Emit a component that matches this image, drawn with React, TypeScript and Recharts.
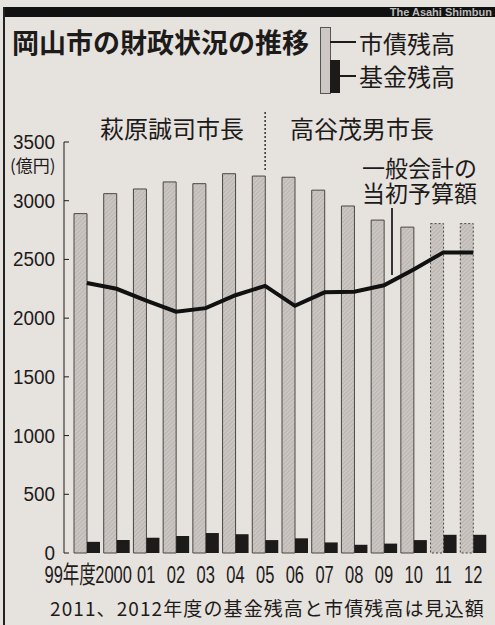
import React from 'react';
import {
  ComposedChart,
  Bar,
  Line,
  XAxis,
  YAxis,
  Cell,
  Legend,
  ReferenceLine
} from 'recharts';

// 年度
const years = ['99年度', '2000', '01', '02', '03', '04', '05', '06', '07', '08', '09', '10', '11', '12'];
// 市債残高 (億円)
const debt = [2890, 3060, 3100, 3160, 3145, 3230, 3210, 3200, 3090, 2955, 2835, 2775, 2805, 2805];
// 基金残高 (億円)
const fund = [95, 110, 130, 145, 170, 160, 110, 125, 90, 70, 80, 110, 155, 155];
// 一般会計の当初予算額 (億円)
const budget = [2300, 2250, 2150, 2055, 2085, 2195, 2275, 2105, 2220, 2225, 2280, 2415, 2560, 2560];
// 見込額の年度
const estimated = ['11', '12'];
const yTicks = [0, 500, 1000, 1500, 2000, 2500, 3000, 3500];

const rows = years.map((year, i) => ({
  year,
  debt: debt[i],
  fund: fund[i],
  budget: budget[i]
}));

const JP = '"Noto Sans CJK JP", "Noto Sans", sans-serif';
const NUM = '"Liberation Sans", Arial, "Noto Sans CJK JP", sans-serif';
const INK = '#1d1b1a';
const PAPER = '#e6e2de';

function YTick({ x, y, payload }: any) {
  const s = String(payload.value);
  return (
    <g>
      <line x1={x} x2={x + 5} y1={y} y2={y} stroke={INK} strokeWidth={1} />
      <text
        x={x - 9}
        y={y + 7}
        textAnchor="end"
        fontSize={20}
        fontFamily={NUM}
        fill={INK}
        textLength={s.length * 10.5}
        lengthAdjust="spacingAndGlyphs"
      >
        {s}
      </text>
    </g>
  );
}

// 年度ラベルは縦長の書体なので縦に引き伸ばす
function XTick({ x, y, payload, index }: any) {
  const s = String(payload.value);
  const first = index === 0;
  const wide = s.length === 4;
  const tx = first ? x + 9 : wide ? x - 3 : x;
  return (
    <text
      transform={`translate(${tx},${y + 30}) scale(1,1.42)`}
      x={0}
      y={0}
      textAnchor={first ? 'end' : 'middle'}
      fontSize={16.5}
      fontFamily={NUM}
      fill={INK}
    >
      {s}
    </text>
  );
}

const renderLegend = () => (
  <div style={{ position: 'relative', width: 0, height: 0 }}>
    <div style={{ position: 'absolute', left: 320, top: 27, width: 9, height: 65, background: '#cdc8c4', border: '1px solid #555' }} />
    <div style={{ position: 'absolute', left: 330, top: 60, width: 10, height: 33, background: INK }} />
    <div style={{ position: 'absolute', left: 330, top: 41, width: 26, height: 1.5, background: INK }} />
    <div style={{ position: 'absolute', left: 340, top: 75, width: 16, height: 1.5, background: INK }} />
    <div style={{ position: 'absolute', left: 359, top: 29, fontSize: 24, lineHeight: '28px', fontFamily: JP, color: INK, whiteSpace: 'nowrap' }}>市債残高</div>
    <div style={{ position: 'absolute', left: 359, top: 62, fontSize: 24, lineHeight: '28px', fontFamily: JP, color: INK, whiteSpace: 'nowrap' }}>基金残高</div>
  </div>
);

const abs = (left: number, top: number, extra: React.CSSProperties = {}): React.CSSProperties => ({
  position: 'absolute',
  left,
  top,
  whiteSpace: 'nowrap',
  color: INK,
  fontFamily: JP,
  ...extra
});

export default function App() {
  return (
    <div style={{ position: 'absolute', left: 0, top: 0, width: 495, height: 625, background: PAPER, overflow: 'hidden' }}>
      {/* frame */}
      <div style={{ position: 'absolute', left: 3, top: 7, width: 492, height: 10, background: '#111' }}>
        <div style={{ position: 'absolute', right: 3, top: -1, fontSize: 11, fontWeight: 700, fontFamily: NUM, color: '#bbb' }}>
          The Asahi Shimbun
        </div>
      </div>
      <div style={{ position: 'absolute', left: 3, top: 7, width: 2, height: 618, background: '#222' }} />

      <div style={abs(12, 27, { fontSize: 27, fontWeight: 700, lineHeight: '30px' })}>岡山市の財政状況の推移</div>
      <div style={abs(100, 114, { fontSize: 24, lineHeight: '28px' })}>萩原誠司市長</div>
      <div style={abs(290, 114, { fontSize: 24, lineHeight: '28px' })}>高谷茂男市長</div>
      <div style={abs(362, 156, { fontSize: 23, lineHeight: '23px' })}>一般会計の</div>
      <div style={abs(362, 181, { fontSize: 23, lineHeight: '23px' })}>当初予算額</div>
      <div style={{ position: 'absolute', left: 391, top: 208, width: 1.5, height: 67, background: '#333' }} />
      <div style={abs(10, 155, { fontSize: 17, lineHeight: '20px' })}>(億円)</div>
      <div style={abs(50, 597, { fontSize: 19, lineHeight: '22px', letterSpacing: 1.1 })}>2011、2012年度の基金残高と市債残高は見込額</div>

      <div style={{ position: 'absolute', left: 0, top: 0 }}>
        <ComposedChart
          width={495}
          height={625}
          data={rows}
          margin={{ top: 142, right: 7, bottom: 42, left: 8 }}
          barGap={0}
        >
          <defs>
            <pattern id="hatch" width="3" height="3" patternUnits="userSpaceOnUse" patternTransform="rotate(45)">
              <rect width="3" height="3" fill="#cbc6c2" />
              <line x1="0" y1="0" x2="0" y2="3" stroke="#aaa4a0" strokeWidth="1" />
            </pattern>
          </defs>
          <XAxis
            dataKey="year"
            axisLine={false}
            tickLine={false}
            tickSize={0}
            tickMargin={0}
            height={30}
            interval={0}
            padding={{ left: 8, right: 0 }}
            tick={<XTick />}
          />
          <YAxis
            width={56}
            domain={[0, 3500]}
            ticks={yTicks}
            interval={0}
            tickLine={false}
            tickSize={0}
            tickMargin={0}
            axisLine={{ stroke: INK, strokeWidth: 1 }}
            tick={<YTick />}
          />
          <Legend content={renderLegend} wrapperStyle={{ left: 0, top: 0, bottom: 'auto', width: 0, height: 0 }} />
          <Bar dataKey="debt" name="市債残高" barSize={13} fill="url(#hatch)" isAnimationActive={false}>
            {rows.map(r => (
              <Cell
                key={r.year}
                stroke="#4a4644"
                strokeWidth={1}
                strokeDasharray={estimated.includes(r.year) ? '2 2' : undefined}
              />
            ))}
          </Bar>
          <Bar dataKey="fund" name="基金残高" barSize={13} fill={INK} isAnimationActive={false} />
          <Line
            type="linear"
            dataKey="budget"
            name="一般会計の当初予算額"
            stroke="#111"
            strokeWidth={4}
            dot={false}
            isAnimationActive={false}
          />
          <ReferenceLine
            segment={[{ x: '05', y: 3262 }, { x: '05', y: 3773 }]}
            ifOverflow="visible"
            stroke="#333"
            strokeWidth={1.5}
            strokeDasharray="2 2"
          />
        </ComposedChart>
      </div>
    </div>
  );
}
